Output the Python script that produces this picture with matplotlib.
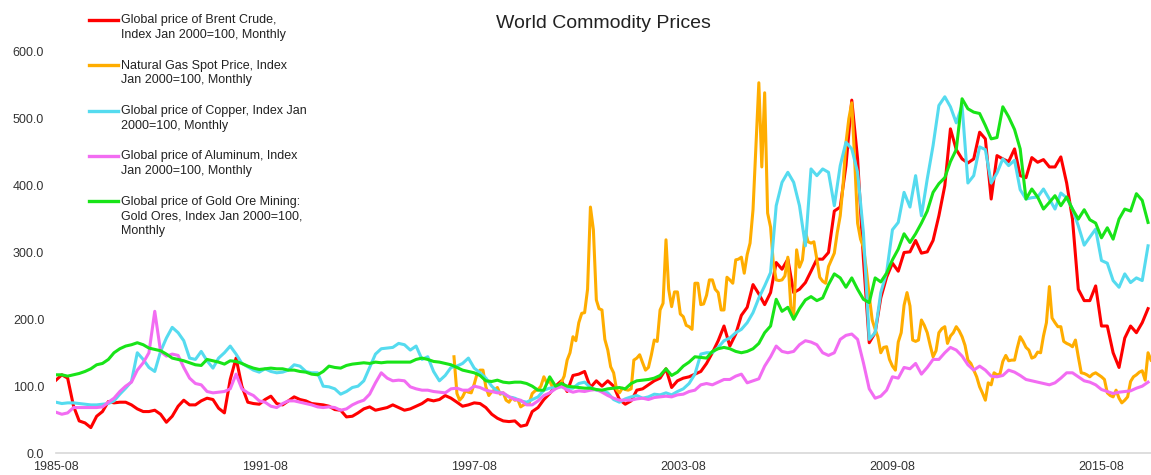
import matplotlib
matplotlib.use('Agg')
import matplotlib.pyplot as plt
from matplotlib.lines import Line2D
import pandas as pd

plt.rcParams['font.family'] = ['Liberation Sans', 'DejaVu Sans']

# bimonthly readings (Aug 1985 .. Dec 2016), index Jan 2000 = 100
brent = [
    109, 117, 112,
    70, 48, 45, 38, 55, 62,
    77, 75, 76, 76, 72, 66,
    62, 62, 64, 58, 46, 55,
    70, 79, 72, 72, 78, 82,
    80, 67, 60, 110, 142, 100,
    76, 74, 73, 80, 85, 74,
    72, 78, 84, 80, 78, 74,
    73, 72, 70, 65, 64, 54,
    55, 60, 66, 69, 64, 66,
    68, 72, 68, 64, 66, 70,
    74, 80, 78, 80, 86, 82,
    76, 70, 72, 75, 74, 68,
    58, 52, 48, 47, 48, 40,
    42, 62, 68, 80, 89, 100,
    108, 92, 116, 118, 122, 98,
    108, 100, 108, 100, 80, 73,
    78, 94, 96, 102, 108, 112,
    126, 98, 108, 112, 114, 118,
    122, 134, 150, 168, 190, 160,
    178, 206, 218, 252, 238, 222,
    240, 285, 275, 290, 240, 245,
    255, 272, 290, 290, 300, 362,
    368, 430, 528, 440, 290, 165,
    180, 232, 263, 284, 272, 300,
    301, 318, 299, 301, 318, 355,
    400, 485, 454, 440, 434, 440,
    480, 470, 380, 445, 440, 436,
    455, 415, 412, 442, 435, 439,
    428, 428, 443, 404, 350, 245,
    228, 228, 250, 190, 190, 150,
    128, 172, 190, 180, 195, 216,
]

copper = [
    76, 74, 75,
    75, 74, 73, 72, 72, 73,
    74, 78, 88, 97, 107, 150,
    140, 128, 122, 152, 172, 188,
    180, 168, 142, 140, 152, 138,
    127, 142, 150, 160, 148, 134,
    129, 124, 121, 126, 122, 120,
    121, 124, 132, 130, 122, 120,
    120, 100, 99, 96, 88, 92,
    98, 100, 108, 128, 148, 156,
    157, 158, 164, 162, 154, 160,
    140, 144, 122, 108, 116, 128,
    130, 134, 142, 127, 120, 112,
    100, 92, 89, 84, 82, 78,
    76, 80, 84, 94, 97, 98,
    99, 97, 97, 104, 106, 98,
    94, 93, 90, 80, 76, 81,
    84, 86, 82, 84, 88, 87,
    90, 87, 92, 96, 104, 118,
    148, 150, 150, 158, 168, 172,
    180, 185, 195, 210, 232, 250,
    270, 370, 405, 420, 405, 370,
    310, 425, 415, 425, 420, 370,
    430, 465, 455, 420, 330, 170,
    180, 240, 270, 334, 345, 390,
    368, 415, 355, 410, 460, 520,
    533, 518, 494, 520, 404, 415,
    458, 454, 404, 419, 440, 430,
    438, 394, 380, 382, 383, 395,
    380, 365, 389, 382, 365, 340,
    311, 323, 335, 288, 284, 258,
    248, 268, 255, 262, 258, 310,
]

aluminum = [
    61, 58, 60,
    68, 68, 68, 68, 68, 69,
    76, 82, 92, 100, 106, 124,
    135, 150, 212, 152, 145, 148,
    146, 128, 112, 104, 102, 92,
    90, 91, 92, 96, 118, 96,
    90, 86, 78, 76, 70, 68,
    74, 78, 78, 76, 74, 72,
    69, 68, 69, 68, 64, 66,
    72, 76, 79, 88, 105, 120,
    112, 108, 109, 108, 99, 96,
    94, 94, 92, 91, 90, 96,
    97, 94, 94, 100, 98, 94,
    92, 90, 90, 84, 80, 79,
    72, 72, 78, 86, 90, 96,
    100, 94, 91, 93, 92, 94,
    95, 91, 86, 82, 79, 79,
    79, 81, 82, 80, 83, 84,
    85, 84, 87, 88, 92, 94,
    102, 104, 102, 106, 110, 110,
    115, 118, 105, 108, 111, 130,
    144, 160, 152, 150, 152, 162,
    168, 166, 162, 150, 146, 150,
    170, 176, 178, 170, 135, 96,
    82, 85, 94, 114, 112, 128,
    126, 134, 118, 128, 140, 140,
    150, 158, 154, 145, 132, 124,
    130, 124, 115, 114, 116, 124,
    121, 116, 110, 108, 106, 104,
    102, 105, 112, 120, 120, 114,
    108, 106, 102, 95, 92, 89,
    91, 92, 93, 97, 100, 106,
]

gold = [
    117, 117, 115,
    117, 119, 122, 126, 132, 134,
    140, 150, 156, 160, 162, 165,
    162, 157, 155, 153, 148, 142,
    140, 138, 135, 132, 131, 140,
    138, 136, 133, 138, 137, 134,
    130, 127, 125, 126, 127, 126,
    126, 124, 124, 122, 121, 118,
    117, 122, 130, 128, 127, 131,
    133, 134, 135, 134, 136, 135,
    136, 136, 136, 136, 136, 140,
    142, 140, 137, 136, 134, 132,
    128, 124, 122, 120, 116, 108,
    107, 109, 106, 105, 106, 106,
    104, 100, 94, 94, 114, 100,
    104, 100, 99, 98, 97, 97,
    95, 94, 96, 97, 98, 96,
    104, 108, 109, 110, 112, 116,
    126, 116, 121, 130, 136, 144,
    143, 142, 152, 156, 158, 156,
    152, 150, 152, 156, 164, 180,
    190, 230, 212, 218, 200, 216,
    229, 234, 228, 232, 252, 268,
    262, 248, 262, 245, 230, 225,
    262, 256, 269, 289, 305, 328,
    315, 328, 344, 362, 390, 403,
    412, 436, 454, 530, 515, 510,
    508, 490, 470, 472, 518, 503,
    484, 455, 380, 395, 383, 365,
    375, 385, 370, 383, 365, 350,
    364, 349, 344, 322, 337, 320,
    350, 365, 362, 388, 378, 345,
]

# monthly, Jan 1997 .. Jan 2017
gas = [
    144, 89, 79, 84, 93, 91, 90, 103, 119, 124, 124, 99,
    86, 92, 94, 98, 88, 90, 79, 76, 83, 79, 80, 69,
    72, 73, 75, 89, 93, 95, 100, 114, 105, 108, 98, 98,
    100, 106, 115, 139, 150, 174, 168, 195, 209, 210, 245, 368,
    334, 229, 216, 214, 170, 154, 129, 120, 95, 90, 97, 95,
    94, 96, 139, 142, 147, 135, 124, 128, 147, 169, 167, 214,
    224, 319, 245, 219, 241, 241, 208, 204, 191, 189, 185, 254,
    254, 222, 223, 236, 259, 259, 245, 240, 214, 214, 263, 259,
    254, 289, 290, 293, 269, 297, 314, 364, 460, 554, 428, 539,
    359, 338, 285, 259, 258, 259, 265, 293, 219, 204, 304, 278,
    289, 331, 316, 314, 316, 290, 263, 257, 254, 279, 289, 299,
    330, 355, 400, 464, 500, 524, 440, 344, 320, 308, 274, 235,
    199, 185, 174, 150, 158, 159, 140, 130, 124, 166, 180, 221,
    240, 220, 169, 167, 169, 199, 191, 180, 161, 144, 153, 180,
    186, 189, 164, 175, 180, 189, 183, 174, 161, 139, 134, 124,
    114, 99, 90, 79, 105, 102, 120, 117, 118, 137, 146, 138,
    139, 139, 157, 174, 167, 158, 154, 142, 144, 151, 150, 175,
    195, 249, 202, 195, 189, 189, 167, 164, 162, 159, 169, 144,
    120, 119, 117, 114, 118, 120, 117, 114, 110, 90, 86, 84,
    94, 82, 75, 79, 84, 107, 114, 117, 121, 123, 109, 150,
    139,
]

labels = [
    'Global price of Brent Crude,\nIndex Jan 2000=100, Monthly',
    'Natural Gas Spot Price, Index\nJan 2000=100, Monthly',
    'Global price of Copper, Index Jan\n2000=100, Monthly',
    'Global price of Aluminum, Index\nJan 2000=100, Monthly',
    'Global price of Gold Ore Mining:\nGold Ores, Index Jan 2000=100,\nMonthly',
]
colors = ['#ff0000', '#ffad00', '#55dbef', '#f26cf2', '#18e418']
tick_dates = ['1985-08', '1991-08', '1997-08', '2003-08', '2009-08', '2015-08']

dates = pd.date_range('1985-08-01', periods=len(brent), freq='2MS')
gas_dates = pd.date_range('1997-01-01', periods=len(gas), freq='MS')

W, H = 1151, 475
fig = plt.figure(figsize=(W / 100, H / 100), dpi=100)
ax = fig.add_axes([56 / W, 22 / H, (W - 56) / W, 401 / H])

series = [(dates, brent), (gas_dates, gas), (dates, copper), (dates, aluminum), (dates, gold)]
for (x, y), c in zip(series, colors):
    ax.plot(x, y, color=c, lw=2.2, solid_joinstyle='round')

ax.set_xlim(pd.Timestamp('1985-08-01'), pd.Timestamp('2017-01-01'))
ax.set_ylim(0, 600)
ax.set_yticks(range(0, 601, 100))
ax.set_yticklabels(['%.1f' % v for v in range(0, 601, 100)])
ax.set_xticks([pd.Timestamp(t + '-01') for t in tick_dates])
ax.set_xticklabels(tick_dates)
ax.tick_params(axis='y', length=0, pad=8.5, labelsize=9, labelcolor='#333333')
ax.tick_params(axis='x', length=0, pad=5.5, labelsize=9, labelcolor='#333333')
for s in ['top', 'right', 'left']:
    ax.spines[s].set_visible(False)
ax.spines['bottom'].set_color('#d8d8d8')
ax.spines['bottom'].set_linewidth(1.2)

fig.text(603 / W, 1 - 23 / H, 'World Commodity Prices', ha='center', va='center',
         fontsize=14, color='#222222')

# legend drawn by hand so the key sits on the first text line
for i, (lab, c) in enumerate(zip(labels, colors)):
    yp = 20 + 45.25 * i
    fig.add_artist(Line2D([89 / W, 118 / W], [1 - yp / H] * 2, color=c, lw=2.4))
    fig.text(121 / W, 1 - (yp - 5.5) / H, lab, ha='left', va='top',
             fontsize=9, color='#222222', linespacing=1.3)

fig.savefig('out.png', dpi=100)
